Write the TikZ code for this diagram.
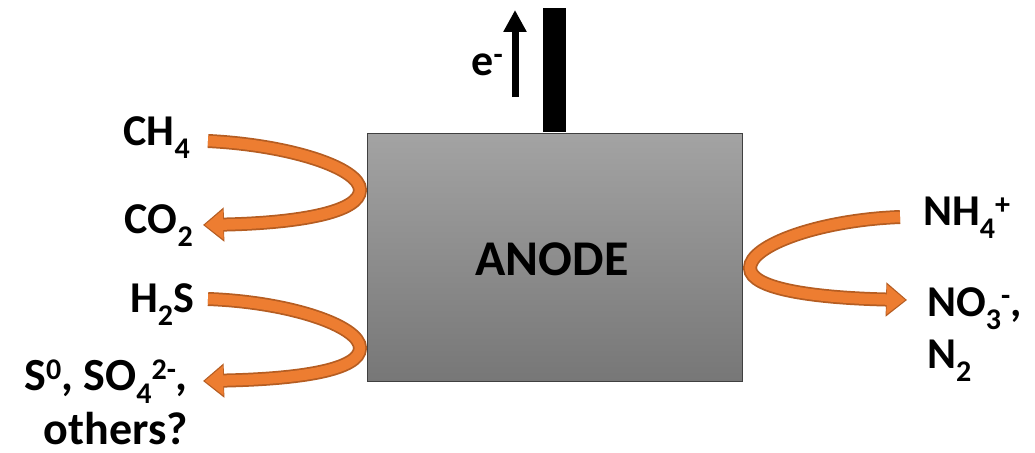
\documentclass[tikz,border=0pt]{standalone}
\usepackage{fontspec}
\setmainfont{Carlito}
\usetikzlibrary{arrows.meta,positioning}
\definecolor{flow}{HTML}{ED7D31}
\definecolor{flowdark}{HTML}{B55D22}
\definecolor{anodetop}{HTML}{A3A3A3}
\definecolor{anodebot}{HTML}{777777}
\newcommand\lo[1]{\raisebox{-13pt}{\fontsize{30}{30}\selectfont #1}}
\newcommand\hi[1]{\raisebox{11pt}{\fontsize{30}{30}\selectfont #1}}

\begin{document}
\begin{tikzpicture}[x=1pt,y=-1pt,
  lbl/.style={font=\fontsize{44}{46}\selectfont\bfseries,inner sep=0pt},
  flowedge/.style={draw=flowdark,line width=14pt,-{Triangle[width=33pt,length=21pt]}},
  flowfill/.style={draw=flow,line width=10.5pt,shorten >=1.8pt,-{Triangle[width=28.5pt,length=18.5pt]}}]
\useasboundingbox (0,0) rectangle (1035,452);
% anode and wire
\node[draw=black!75,line width=1pt,top color=anodetop,bottom color=anodebot,minimum width=375pt,minimum height=248pt,inner sep=0pt] (anode) at (554.5,257) {};
\node[lbl,font=\fontsize{50}{56}\selectfont\bfseries,anchor=base] (anodetxt) at (552,275) {ANODE};
\node[fill=black,minimum width=23pt,minimum height=124pt,inner sep=0pt,anchor=south] (wire) at (anode.north) {};
% electron flow
\coordinate (ebase) at (515,97); \coordinate (etip) at (515,10);
\draw[line width=7pt,-{Triangle[width=22pt,length=22pt]}] (ebase) -- (etip);
\node[lbl,anchor=base east] (elec) at (503,75) {e\hi{-}};
% labels
\node[lbl,anchor=base east] (ch4) at (190,145) {CH\lo{4}};
\node[lbl,anchor=base east] (co2) at (193,233) {CO\lo{2}};
\node[lbl,anchor=base east] (h2s) at (194,312) {H\lo{2}S};
\node[lbl,font=\fontsize{46}{48}\selectfont\bfseries,anchor=base east,align=right] (sulf) at (188,444) {S\hi{0}, SO\lo{4}\hi{2-},\\[6pt]others?};
\node[lbl,anchor=base west] (nh4) at (923,225) {NH\lo{4}\hi{+}};
\node[lbl,anchor=base west,align=left] (no3) at (927,368) {NO\lo{3}\hi{-},\\[6pt]N\lo{2}};
% turning points of the flows
\coordinate (m1) at (208,141); \coordinate (m1turn) at (360,190); \coordinate (m1tip) at (203,225);
\coordinate (s1) at (208,299); \coordinate (s1turn) at (360,348); \coordinate (s1tip) at (203,381);
\coordinate (n1) at (900,217); \coordinate (n1turn) at (750,268); \coordinate (n1tip) at (907,300);
% methane
\draw[flowedge] (m1) .. controls (290,145) and (360,168) .. (m1turn) .. controls (360,212) and (300,223) .. (m1tip);
\draw[flowfill] (m1) .. controls (290,145) and (360,168) .. (m1turn) .. controls (360,212) and (300,223) .. (m1tip);
% sulfide
\draw[flowedge] (s1) .. controls (290,302) and (360,326) .. (s1turn) .. controls (360,370) and (300,379) .. (s1tip);
\draw[flowfill] (s1) .. controls (290,302) and (360,326) .. (s1turn) .. controls (360,370) and (300,379) .. (s1tip);
% ammonium
\draw[flowedge] (n1) .. controls (820,220) and (750,245) .. (n1turn) .. controls (750,290) and (820,298) .. (n1tip);
\draw[flowfill] (n1) .. controls (820,220) and (750,245) .. (n1turn) .. controls (750,290) and (820,298) .. (n1tip);
\end{tikzpicture}
\end{document}
